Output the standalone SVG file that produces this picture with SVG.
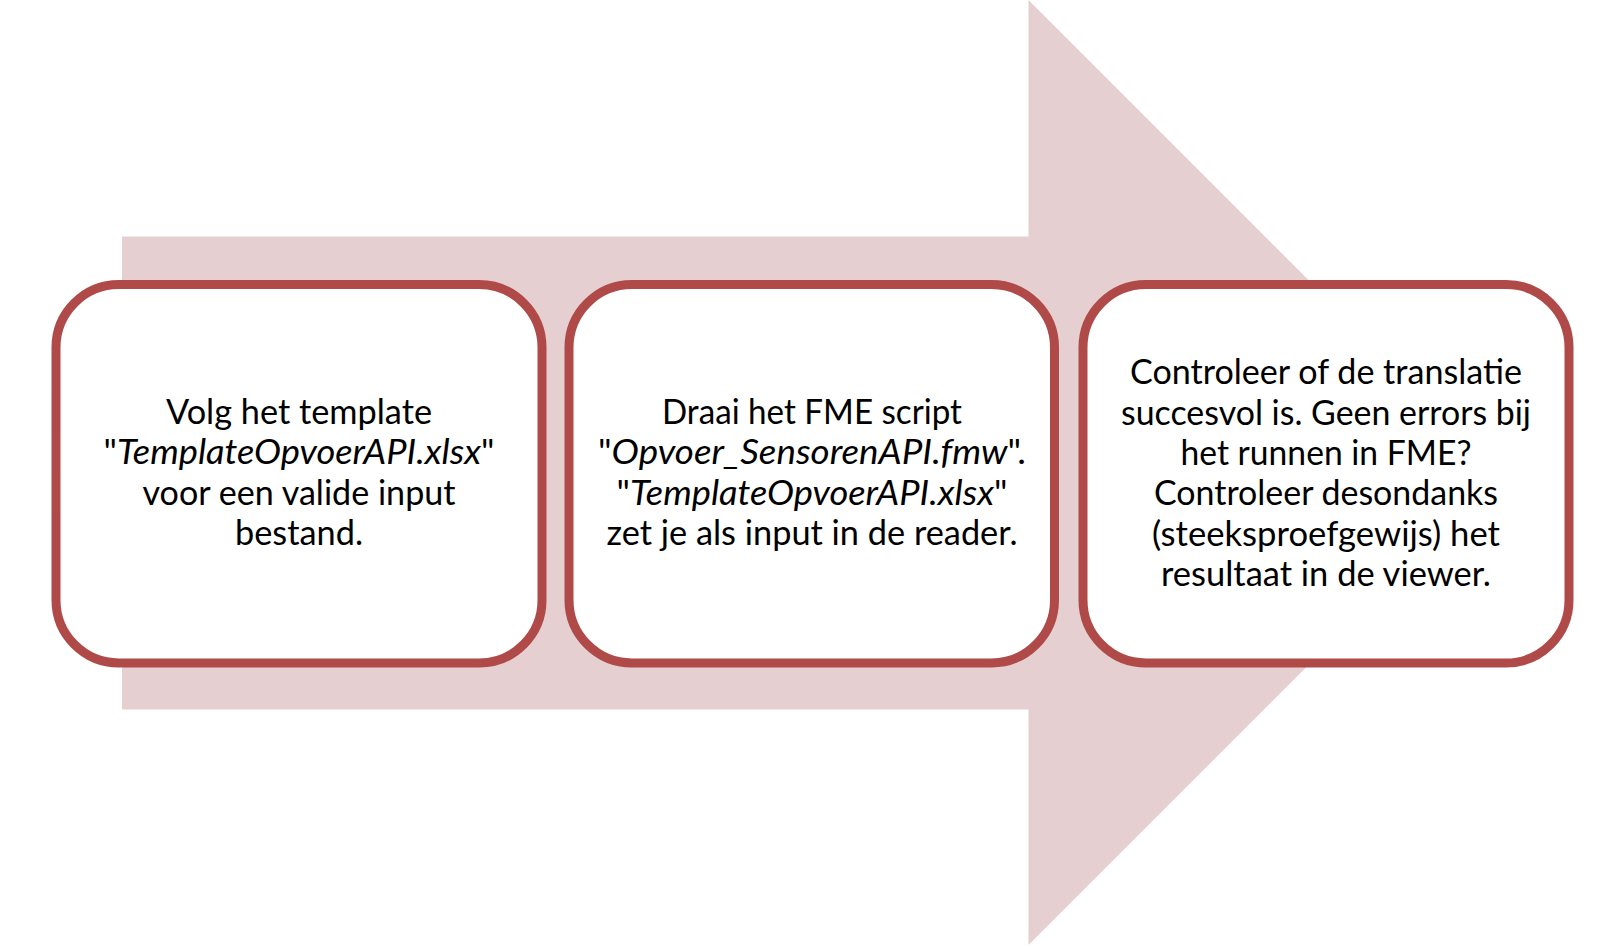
<svg xmlns="http://www.w3.org/2000/svg" width="1624" height="947" viewBox="0 0 1624 947">
<style>
.bg{fill:#ffffff}
.arrow{fill:#E6CFD0;stroke:none}
.box{fill:#ffffff;stroke:#AF4A48;stroke-width:9}
.t{font-family:"Lato","Open Sans","Liberation Sans",sans-serif;font-size:34px;fill:#000000;text-anchor:middle}
.i{font-style:italic}
</style>
<rect class="bg" x="0" y="0" width="1624" height="947"/>
<g id="connectors">
<polygon id="flow-arrow" class="arrow" points="122,236.5 1028.5,236.5 1028.5,0 1501,472.5 1028.5,945 1028.5,709.5 122,709.5"/>
</g>
<g id="node1">
<rect class="box" x="56" y="284.5" width="486" height="378.5" rx="63" ry="63"/>
<text class="t" x="299" y="424" textLength="266" lengthAdjust="spacingAndGlyphs">Volg het template</text>
<text class="t" x="299" y="464.3" textLength="391" lengthAdjust="spacingAndGlyphs">"<tspan class="i">TemplateOpvoerAPI.xlsx</tspan>"</text>
<text class="t" x="299" y="504.7" textLength="313" lengthAdjust="spacingAndGlyphs">voor een valide input</text>
<text class="t" x="299" y="545" textLength="128" lengthAdjust="spacingAndGlyphs">bestand.</text>
</g>
<g id="node2">
<rect class="box" x="569" y="284.5" width="485.5" height="378.5" rx="63" ry="63"/>
<text class="t" x="812" y="424" textLength="300" lengthAdjust="spacingAndGlyphs">Draai het FME script</text>
<text class="t" x="812" y="464.3" textLength="428" lengthAdjust="spacingAndGlyphs">"<tspan class="i">Opvoer_SensorenAPI.fmw</tspan>".</text>
<text class="t" x="812" y="504.7" textLength="391" lengthAdjust="spacingAndGlyphs">"<tspan class="i">TemplateOpvoerAPI.xlsx</tspan>"</text>
<text class="t" x="812" y="545" textLength="411" lengthAdjust="spacingAndGlyphs">zet je als input in de reader.</text>
</g>
<g id="node3">
<rect class="box" x="1083" y="284.5" width="486" height="378.5" rx="63" ry="63"/>
<text class="t" x="1326" y="384.1" textLength="392" lengthAdjust="spacingAndGlyphs">Controleer of de translatie</text>
<text class="t" x="1326" y="424.5" textLength="410" lengthAdjust="spacingAndGlyphs">succesvol is. Geen errors bij</text>
<text class="t" x="1326" y="464.9" textLength="291" lengthAdjust="spacingAndGlyphs">het runnen in FME?</text>
<text class="t" x="1326" y="505.3" textLength="344" lengthAdjust="spacingAndGlyphs">Controleer desondanks</text>
<text class="t" x="1326" y="545.7" textLength="348" lengthAdjust="spacingAndGlyphs">(steeksproefgewijs) het</text>
<text class="t" x="1326" y="586.1" textLength="330" lengthAdjust="spacingAndGlyphs">resultaat in de viewer.</text>
</g>
</svg>
